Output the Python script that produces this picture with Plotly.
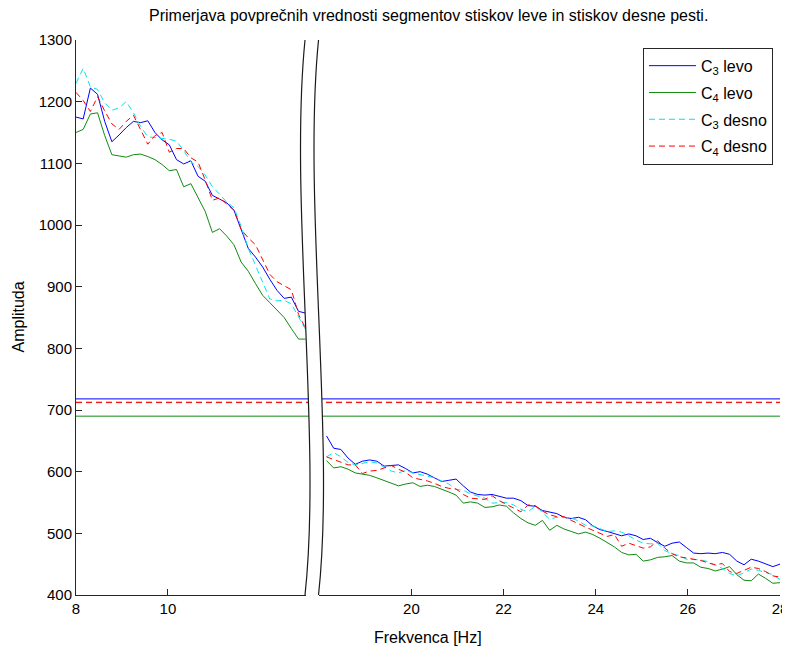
import plotly.graph_objects as go

# ---------------- data ----------------
# frequency bins (Hz) of the two displayed segments
freq_left = [round(8 + i * 0.15625, 5) for i in range(33)]        # 8 .. 13 Hz
freq_right = [round(18.15625 + i * 0.15625, 5) for i in range(64)]  # 18.16 .. 28 Hz

c3_levo_left = [1175, 1172, 1222, 1212, 1168, 1135, 1146, 1158, 1168, 1166, 1169, 1150, 1138,
                1130, 1106, 1099, 1104, 1079, 1071, 1048, 1042, 1036, 1024, 994, 962, 948, 932,
                912, 894, 881, 883, 860, 857]
c4_levo_left = [1150, 1155, 1180, 1182, 1145, 1114, 1112, 1110, 1114, 1115, 1111, 1106, 1098,
                1088, 1090, 1062, 1067, 1044, 1022, 988, 994, 982, 968, 940, 925, 905, 886,
                874, 862, 850, 832, 815, 815]
c3_desno_left = [1230, 1254, 1224, 1220, 1198, 1186, 1190, 1200, 1182, 1160, 1143, 1142, 1140,
                 1139, 1136, 1121, 1102, 1095, 1081, 1062, 1050, 1037, 1028, 998, 962, 934, 905,
                 880, 877, 878, 872, 852, 830]
c4_desno_left = [1215, 1202, 1184, 1208, 1185, 1164, 1155, 1168, 1178, 1155, 1131, 1145, 1150,
                 1118, 1124, 1124, 1109, 1102, 1073, 1040, 1044, 1034, 1024, 993, 979, 968, 945,
                 920, 908, 902, 895, 855, 832]

c3_levo_right = [658, 638, 636, 622, 612, 617, 619, 617, 609, 610, 611, 605, 598, 600, 596, 590,
                 584, 586, 588, 577, 567, 563, 562, 563, 560, 557, 557, 553, 545, 544, 537, 534,
                 532, 526, 524, 526, 522, 512, 506, 503, 499, 496, 499, 496, 490, 492, 485, 479,
                 484, 486, 477, 468, 467, 468, 467, 469, 466, 455, 449, 458, 455, 451, 446, 450]
c4_levo_right = [618, 606, 608, 604, 598, 596, 594, 590, 586, 581, 577, 580, 582, 576, 578, 576,
                 572, 567, 562, 549, 551, 549, 542, 543, 546, 544, 533, 524, 517, 513, 521, 505,
                 513, 507, 503, 499, 502, 498, 492, 485, 478, 469, 465, 466, 455, 457, 461, 462,
                 464, 455, 452, 452, 445, 443, 439, 442, 446, 433, 424, 423, 434, 427, 419, 420]
c3_desno_right = [624, 631, 624, 615, 611, 614, 616, 614, 607, 601, 598, 602, 598, 595, 593, 590,
                  585, 580, 571, 570, 564, 561, 557, 549, 550, 550, 546, 539, 535, 544, 534, 523,
                  526, 526, 525, 520, 513, 512, 508, 503, 504, 502, 496, 489, 484, 483, 484, 472,
                  467, 464, 458, 457, 457, 454, 449, 443, 435, 431, 436, 442, 440, 437, 433, 425]
c4_desno_right = [624, 620, 616, 611, 611, 597, 601, 602, 606, 610, 604, 599, 590, 588, 585, 581,
                  576, 573, 572, 563, 557, 556, 555, 561, 553, 547, 541, 535, 546, 545, 536, 530,
                  527, 527, 521, 515, 510, 505, 500, 495, 498, 479, 484, 480, 476, 478, 488, 476,
                  467, 462, 460, 458, 456, 452, 449, 451, 438, 435, 440, 445, 443, 438, 431, 429]

# mean amplitude levels (horizontal lines)
mean_c3_levo = 718
mean_c4_levo = 690
mean_c3_desno = 713
mean_c4_desno = 712

series_names = ["C<sub>3</sub> levo", "C<sub>4</sub> levo", "C<sub>3</sub> desno", "C<sub>4</sub> desno"]
left_vals = [c3_levo_left, c4_levo_left, c3_desno_left, c4_desno_left]
right_vals = [c3_levo_right, c4_levo_right, c3_desno_right, c4_desno_right]
means = [mean_c3_levo, mean_c4_levo, mean_c3_desno, mean_c4_desno]

left_ticks = [8, 10]
right_ticks = [20, 22, 24, 26, 28]
y_ticks = [400, 500, 600, 700, 800, 900, 1000, 1100, 1200, 1300]

# ---------------- styling ----------------
colors = ["#0000ff", "#118a11", "#00e6e6", "#ff0000"]
dashes = ["solid", "solid", "6px,4px", "6px,4px"]
FONT = "Liberation Sans, Arial, sans-serif"
AX = "#262626"

fig = go.Figure()

# mean lines (behind the curves)
shapes = []
for m, c, d in zip(means, colors, dashes):
    shapes.append(dict(type="line", xref="paper", yref="y", x0=0, x1=1, y0=m, y1=m,
                       line=dict(color=c, width=1, dash=d), layer="below"))

for i, (name, lv, c, d) in enumerate(zip(series_names, left_vals, colors, dashes)):
    fig.add_trace(go.Scatter(x=freq_left, y=lv, mode="lines", name=name, legendgroup=f"g{i}",
                             line=dict(color=c, width=1, dash=d), xaxis="x", yaxis="y"))
for i, (name, rv, c, d) in enumerate(zip(series_names, right_vals, colors, dashes)):
    fig.add_trace(go.Scatter(x=freq_right, y=rv, mode="lines", name=name, legendgroup=f"g{i}",
                             showlegend=False, line=dict(color=c, width=1, dash=d),
                             xaxis="x2", yaxis="y"))

# axis-break symbol (white band between two curved lines)
L = [(0.3253, 1.0), (0.3026, 0.7117), (0.3494, 0.2793), (0.3253, 0.0)]
R = [(0.3445, 1.0), (0.3217, 0.7117), (0.3686, 0.2793), (0.3445, 0.0)]


def p(pt):
    return f"{pt[0]},{pt[1]}"


fill_path = (f"M {p(L[0])} C {p(L[1])} {p(L[2])} {p(L[3])} L {p(R[3])} "
             f"C {p(R[2])} {p(R[1])} {p(R[0])} Z")
shapes.append(dict(type="path", xref="paper", yref="paper", path=fill_path,
                   fillcolor="white", line=dict(width=0), layer="above"))
for C in (L, R):
    shapes.append(dict(type="path", xref="paper", yref="paper",
                       path=f"M {p(C[0])} C {p(C[1])} {p(C[2])} {p(C[3])}",
                       line=dict(color="#1a1a1a", width=1.2), layer="above"))

axis_common = dict(showline=True, linecolor=AX, linewidth=1, ticks="inside", ticklen=6,
                   tickcolor=AX, tickwidth=1, showgrid=False, zeroline=False, mirror=False,
                   automargin=False, tickfont=dict(family=FONT, size=15, color="black"))

# the page body has an 8 px margin, so the figure is 8 px smaller and margins compensate
fig.update_layout(
    width=782, height=639,
    margin=dict(l=68, r=10, t=32, b=52, autoexpand=False),
    paper_bgcolor="white", plot_bgcolor="white",
    font=dict(family=FONT, size=15, color="black"),
    xaxis=dict(domain=[0, 0.3263], range=[8, 13], tickvals=left_ticks, anchor="y", **axis_common),
    xaxis2=dict(domain=[0.3456, 1], range=[18, 28], tickvals=right_ticks, anchor="y", **axis_common),
    yaxis=dict(range=[400, 1300], tickvals=y_ticks, anchor="x", **axis_common),
    showlegend=True,
    legend=dict(x=0.99, y=0.986, xanchor="right", yanchor="top", bgcolor="white",
                bordercolor=AX, borderwidth=1, font=dict(family=FONT, size=16, color="black"),
                tracegroupgap=3, itemwidth=47),
    shapes=shapes,
    annotations=[
        dict(text="Primerjava povprečnih vrednosti segmentov stiskov leve in stiskov desne pesti.",
             xref="paper", yref="paper", x=0.5, y=1, yshift=25, showarrow=False,
             xanchor="center", yanchor="middle", font=dict(family=FONT, size=16, color="black")),
        dict(text="Frekvenca [Hz]", xref="paper", yref="paper", x=0.5, y=0, yshift=-42,
             showarrow=False, xanchor="center", yanchor="middle",
             font=dict(family=FONT, size=16, color="black")),
        dict(text="Amplituda", xref="paper", yref="paper", x=0, y=0.5, xshift=-58,
             textangle=-90, showarrow=False, xanchor="center", yanchor="middle",
             font=dict(family=FONT, size=16, color="black")),
    ],
)

fig.write_html("out.html")
